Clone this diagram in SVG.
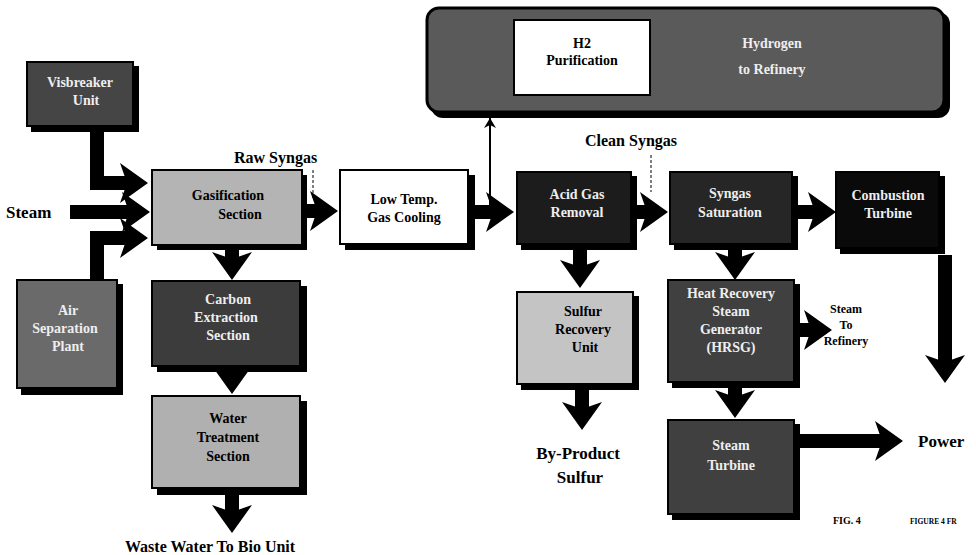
<svg xmlns="http://www.w3.org/2000/svg" width="976" height="555" viewBox="0 0 976 555">
<style>
.lbl{font-family:"Liberation Serif","Times New Roman",serif;font-weight:bold;fill:#000}
.wt{font-family:"Liberation Serif","Times New Roman",serif;font-weight:bold;fill:#eee;font-size:14px;text-anchor:middle}
.bt{font-family:"Liberation Serif","Times New Roman",serif;font-weight:bold;fill:#000;font-size:14px;text-anchor:middle}
.sh{fill:#000}
.box{stroke:#000;stroke-width:2}
.arr{fill:none;stroke:#000;stroke-width:14;stroke-linejoin:miter}
.lead{fill:none;stroke:#000;stroke-width:1;stroke-dasharray:3,2}
</style>
<defs>
<marker id="ah" markerUnits="userSpaceOnUse" markerWidth="30" markerHeight="44" refX="18" refY="22" orient="auto">
<path d="M0,2 L28,22 L0,42 L7,22 Z" fill="#000"/>
</marker>
<marker id="sm" markerUnits="userSpaceOnUse" markerWidth="12" markerHeight="12" refX="10" refY="6" orient="auto">
<path d="M0,0 L10,6 L0,12 L3,6 Z" fill="#000"/>
</marker>
<marker id="smw" markerUnits="userSpaceOnUse" markerWidth="12" markerHeight="12" refX="10" refY="6" orient="auto">
<path d="M0,0 L10,6 L0,12" fill="none" stroke="#fff" stroke-width="1.5"/>
</marker>
</defs>
<rect width="976" height="555" fill="#fff"/>

<g id="connectors">
<path class="arr" d="M97,128 V183 H138" marker-end="url(#ah)"/>
<path class="arr" d="M70,212 H140" marker-end="url(#ah)"/>
<path class="arr" d="M97,280 V238 H138" marker-end="url(#ah)"/>
<path class="arr" d="M302,211 H328" marker-end="url(#ah)"/>
<path class="arr" d="M470,212 H504" marker-end="url(#ah)"/>
<path fill="none" stroke="#000" stroke-width="2" d="M490,212 V118" marker-end="url(#sm)"/>
<path fill="none" stroke="#fff" stroke-width="2" d="M490,112 V50 H510" marker-end="url(#smw)"/>
<path class="arr" d="M632,212 H658" marker-end="url(#ah)"/>
<path class="arr" d="M793,212 H826" marker-end="url(#ah)"/>
<path class="arr" d="M945,255 V373" marker-end="url(#ah)"/>
<path class="arr" d="M735,247 V270" marker-end="url(#ah)"/>
<path class="arr" d="M797,330 H822" marker-end="url(#ah)"/>
<path class="arr" d="M735,385 V408" marker-end="url(#ah)"/>
<path class="arr" d="M800,441 H893" marker-end="url(#ah)"/>
<path class="arr" d="M580,247 V278" marker-end="url(#ah)"/>
<path class="arr" d="M582,390 V420" marker-end="url(#ah)"/>
<path class="arr" d="M232,247 V270" marker-end="url(#ah)"/>
<path class="arr" d="M232,372 V384" marker-end="url(#ah)"/>
<path class="arr" d="M232,494 V523" marker-end="url(#ah)"/>
<path class="lead" d="M313,170 V198"/>
<path class="lead" d="M651,155 V192"/>
</g>

<g id="hydrogen">
<rect x="431" y="12" width="519" height="106" rx="12" class="sh"/>
<rect x="427" y="8" width="517" height="104" rx="12" fill="#5a5a5a" stroke="#000" stroke-width="3"/>
<text class="wt" x="772" y="48" font-size="16">Hydrogen</text>
<text class="wt" x="772" y="74" font-size="16">to Refinery</text>
</g>
<g id="h2purification">
<rect x="514" y="20" width="136" height="75" fill="#fff" stroke="#000" stroke-width="2"/>
<text class="bt" x="582" y="48" font-size="12.5">H2</text>
<text class="bt" x="582" y="65" font-size="12.5">Purification</text>
</g>

<g id="visbreaker">
<rect x="31" y="66" width="108" height="66" class="sh"/>
<rect x="27" y="62" width="106" height="64" fill="#454545" class="box"/>
<text class="wt" x="80" y="87">Visbreaker</text>
<text class="wt" x="86" y="105">Unit</text>
</g>

<g id="steam-label"><text class="lbl" x="6" y="218" font-size="17">Steam</text></g>

<g id="gasification">
<rect x="157" y="175" width="150" height="75" class="sh"/>
<rect x="152" y="170" width="150" height="75" fill="#b4b4b4" class="box"/>
<text class="bt" x="228" y="200">Gasification</text>
<text class="bt" x="240" y="219">Section</text>
</g>

<g id="airsep">
<rect x="21" y="284" width="102" height="111" class="sh"/>
<rect x="17" y="280" width="100" height="108" fill="#6a6a6a" class="box"/>
<text class="wt" x="68" y="315">Air</text>
<text class="wt" x="65" y="333">Separation</text>
<text class="wt" x="68" y="351">Plant</text>
</g>

<g id="carbon">
<rect x="157" y="286" width="150" height="86" class="sh"/>
<rect x="152" y="281" width="148" height="85" fill="#3c3c3c" class="box"/>
<text class="wt" x="228" y="304">Carbon</text>
<text class="wt" x="226" y="322">Extraction</text>
<text class="wt" x="228" y="340">Section</text>
</g>

<g id="water">
<rect x="157" y="401" width="150" height="94" class="sh"/>
<rect x="152" y="396" width="148" height="92" fill="#b0b0b0" class="box"/>
<text class="bt" x="228" y="423">Water</text>
<text class="bt" x="228" y="442">Treatment</text>
<text class="bt" x="228" y="461">Section</text>
</g>
<g id="waste-label"><text class="lbl" x="125" y="552" font-size="16">Waste Water To Bio Unit</text></g>

<g id="rawsyngas-label"><text class="lbl" x="234" y="163" font-size="16">Raw Syngas</text></g>

<g id="lowtemp">
<rect x="345" y="175" width="130" height="75" class="sh"/>
<rect x="340" y="170" width="128" height="74" fill="#fff" class="box"/>
<text class="bt" x="404" y="204" font-size="15">Low Temp.</text>
<text class="bt" x="404" y="222" font-size="15">Gas Cooling</text>
</g>

<g id="acidgas">
<rect x="521" y="176" width="116" height="74" class="sh"/>
<rect x="517" y="172" width="114" height="72" fill="#1c1c1c" class="box"/>
<text class="wt" x="577" y="199">Acid Gas</text>
<text class="wt" x="577" y="217">Removal</text>
</g>

<g id="cleansyngas-label"><text class="lbl" x="585" y="146" font-size="16">Clean Syngas</text></g>

<g id="sulfur">
<rect x="521" y="296" width="118" height="94" class="sh"/>
<rect x="517" y="292" width="116" height="92" fill="#c4c4c4" class="box"/>
<text class="bt" x="583" y="316">Sulfur</text>
<text class="bt" x="583" y="334">Recovery</text>
<text class="bt" x="585" y="352">Unit</text>
</g>
<g id="byproduct-label">
<text class="lbl" x="578" y="459" font-size="17" text-anchor="middle">By-Product</text>
<text class="lbl" x="580" y="483" font-size="17" text-anchor="middle">Sulfur</text>
</g>

<g id="saturation">
<rect x="674" y="176" width="124" height="74" class="sh"/>
<rect x="670" y="172" width="122" height="72" fill="#262626" class="box"/>
<text class="wt" x="730" y="198">Syngas</text>
<text class="wt" x="730" y="217">Saturation</text>
</g>

<g id="combustion">
<rect x="840" y="176" width="105" height="78" class="sh"/>
<rect x="836" y="172" width="103" height="76" fill="#0a0a0a" class="box"/>
<text class="wt" x="888" y="200">Combustion</text>
<text class="wt" x="888" y="218">Turbine</text>
</g>

<g id="hrsg">
<rect x="672" y="284" width="128" height="104" class="sh"/>
<rect x="668" y="280" width="126" height="102" fill="#404040" class="box"/>
<text class="wt" x="731" y="298">Heat Recovery</text>
<text class="wt" x="731" y="316">Steam</text>
<text class="wt" x="731" y="334">Generator</text>
<text class="wt" x="731" y="352">(HRSG)</text>
</g>
<g id="steamref-label">
<text class="lbl" x="846" y="313" font-size="12" text-anchor="middle">Steam</text>
<text class="lbl" x="846" y="329" font-size="12" text-anchor="middle">To</text>
<text class="lbl" x="846" y="345" font-size="12" text-anchor="middle">Refinery</text>
</g>

<g id="steamturbine">
<rect x="672" y="424" width="128" height="96" class="sh"/>
<rect x="668" y="420" width="126" height="94" fill="#404040" class="box"/>
<text class="wt" x="731" y="450">Steam</text>
<text class="wt" x="731" y="470">Turbine</text>
</g>
<g id="power-label"><text class="lbl" x="918" y="447" font-size="17">Power</text></g>

<g id="fig">
<text class="lbl" x="833" y="524" font-size="10">FIG. 4</text>
<text class="lbl" x="910" y="524" font-size="7.5">FIGURE 4 FR</text>
</g>
</svg>
